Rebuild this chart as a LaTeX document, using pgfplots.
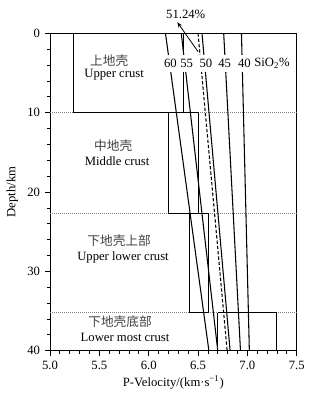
\documentclass[border=0pt]{standalone}
\usepackage{pgfplots}
\pgfplotsset{compat=1.18}
\usepackage{fontspec}
\setmainfont{Liberation Serif}
\newfontfamily\cjk{Noto Sans CJK SC}
\usetikzlibrary{calc,arrows.meta}

\begin{document}
\begin{tikzpicture}[font=\fontsize{9.5}{11}\selectfont]
\begin{axis}[
  scale only axis, width=185pt, height=238pt,
  xmin=5, xmax=7.5, ymin=0, ymax=40, y dir=reverse,
  xtick={5,5.5,6,6.5,7,7.5}, ytick={0,10,20,30,40},
  minor x tick num=4, minor y tick num=4,
  tick align=outside, tick pos=left,
  major tick length=4pt, minor tick length=2.5pt,
  xticklabel style={/pgf/number format/.cd, fixed, fixed zerofill, precision=1},
  /pgf/number format/assume math mode=true,
  xlabel={P-Velocity/(km·s\textsuperscript{−1})},
  ylabel={Depth/km},
  xlabel style={yshift=2pt},
  clip=false,
  axis line style={line width=0.6pt},
  every tick/.style={black, line width=0.6pt},
]
% dotted layer boundaries
\addplot[gray, densely dotted, line width=0.5pt] coordinates {(5,10) (7.5,10)};
\addplot[gray, densely dotted, line width=0.5pt] coordinates {(5,22.7) (7.5,22.7)};
\addplot[gray, densely dotted, line width=0.5pt] coordinates {(5,35.2) (7.5,35.2)};
% crustal boxes
\addplot[black, line width=0.6pt] coordinates {(5.24,0) (5.24,10) (6.35,10) (6.35,0) (5.24,0)};
\addplot[black, line width=0.6pt] coordinates {(6.20,10) (6.20,22.7) (6.50,22.7) (6.50,10) (6.20,10)};
\addplot[black, line width=0.6pt] coordinates {(6.41,22.7) (6.41,35.2) (6.61,35.2) (6.61,22.7) (6.41,22.7)};
\addplot[black, line width=0.6pt] coordinates {(6.70,35.2) (6.70,40) (7.29,40) (7.29,35.2) (6.70,35.2)};
% SiO2 lines
\addplot[black, line width=0.8pt] coordinates {(6.17,0) (6.61,40)};
\addplot[black, line width=0.8pt] coordinates {(6.33,0) (6.70,40)};
\addplot[black, line width=0.8pt, dash pattern=on 2.5pt off 1.5pt] coordinates {(6.50,0) (6.795,40)};
\addplot[black, line width=0.8pt] coordinates {(6.54,0) (6.825,40)};
\addplot[black, line width=0.8pt] coordinates {(6.76,0) (6.93,40)};
\addplot[black, line width=0.8pt] coordinates {(6.94,0) (7.02,40)};
% labels of SiO2 lines
\node[fill=white, inner xsep=0.5pt, inner ysep=3.5pt] at (axis cs:6.22,3.8) {60};
\node[fill=white, inner xsep=0.5pt, inner ysep=3.5pt] at (axis cs:6.385,3.8) {55};
\node[fill=white, inner xsep=0.5pt, inner ysep=3.5pt] at (axis cs:6.58,3.8) {50};
\node[fill=white, inner xsep=0.5pt, inner ysep=3.5pt] at (axis cs:6.77,3.8) {45};
\node[fill=white, inner xsep=0.5pt, inner ysep=3.5pt] at (axis cs:6.97,3.8) {40};
\node[fill=white, inner xsep=0.5pt, inner ysep=3.5pt] at (axis cs:7.25,3.8) {SiO\textsubscript{2}\%};
% 51.24% annotation
\node at (axis cs:6.375,-2.4) {51.24\%};
\draw[line width=0.6pt, -{Stealth[length=4pt,width=3pt]}] (axis cs:6.50,2.3) -- (axis cs:6.29,-1.4);
% layer labels
\node[text=black!75] at (axis cs:5.60,3.4) {\cjk 上地壳};
\node at (axis cs:5.65,5.2) {Upper crust};
\node[text=black!75] at (axis cs:5.64,14.2) {\cjk 中地壳};
\node at (axis cs:5.68,16.1) {Middle crust};
\node[text=black!75] at (axis cs:5.70,26.1) {\cjk 下地壳上部};
\node at (axis cs:5.74,28.2) {Upper lower crust};
\node[text=black!75] at (axis cs:5.71,36.4) {\cjk 下地壳底部};
\node at (axis cs:5.76,38.3) {Lower most crust};
\end{axis}
\pgfresetboundingbox
\path ($(current axis.south west)+(-37.5pt,-34.7pt)$) rectangle ($(current axis.north east)+(16.7pt,25pt)$);
\end{tikzpicture}
\end{document}
